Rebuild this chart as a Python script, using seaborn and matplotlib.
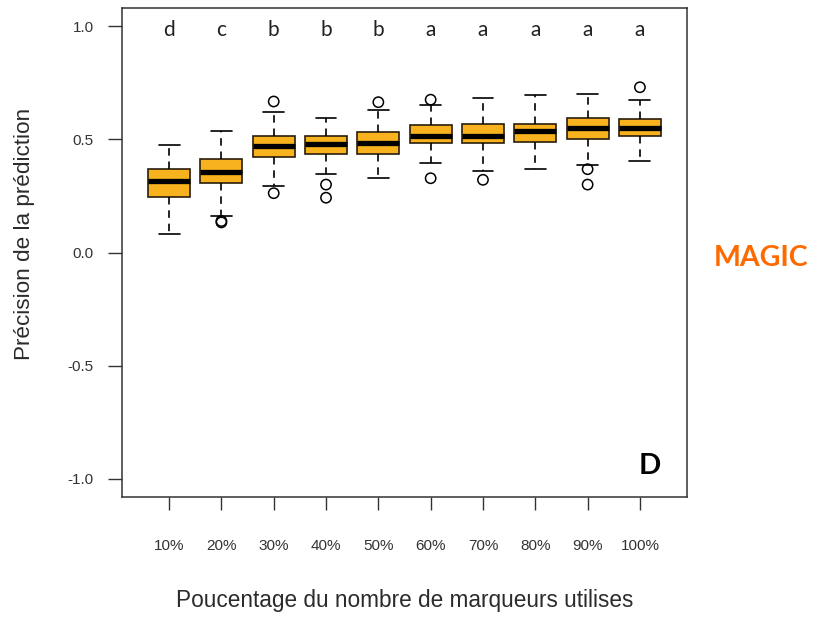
import numpy as np
import pandas as pd
import matplotlib
matplotlib.use("Agg")
import matplotlib.pyplot as plt
import seaborn as sns

# Share of markers used and the prediction accuracy summary for each share
categories = ["10%", "20%", "30%", "40%", "50%", "60%", "70%", "80%", "90%", "100%"]
whisker_low = [0.080, 0.161, 0.294, 0.347, 0.328, 0.395, 0.362, 0.368, 0.387, 0.404]
q1 = [0.247, 0.307, 0.420, 0.433, 0.433, 0.482, 0.482, 0.488, 0.501, 0.514]
median = [0.315, 0.356, 0.470, 0.478, 0.483, 0.516, 0.516, 0.535, 0.548, 0.548]
q3 = [0.368, 0.415, 0.514, 0.514, 0.531, 0.563, 0.568, 0.568, 0.594, 0.588]
whisker_high = [0.475, 0.535, 0.622, 0.594, 0.630, 0.650, 0.683, 0.696, 0.702, 0.675]

# Points beyond the whiskers
outlier_groups = ["20%", "20%", "30%", "30%", "40%", "40%", "50%", "60%", "60%",
                  "70%", "90%", "90%", "100%"]
outlier_values = [0.133, 0.139, 0.667, 0.262, 0.300, 0.242, 0.664, 0.675, 0.328,
                  0.321, 0.368, 0.300, 0.730]

# Significance groups shown above each box
letters = ["d", "c", "b", "b", "b", "a", "a", "a", "a", "a"]

y_ticks = [-1.0, -0.5, 0.0, 0.5, 1.0]
y_tick_labels = ["-1.0", "-0.5", "0.0", "0.5", "1.0"]

# Long table: five summary values per group give the exact quartiles
rows = []
for g, lo, a, m, b, hi in zip(categories, whisker_low, q1, median, q3, whisker_high):
    for v in (lo, a, m, b, hi):
        rows.append({"groupe": g, "precision": v})
df = pd.DataFrame(rows)

sns.set_theme(style="white")
plt.rcParams["font.family"] = ["Liberation Sans", "DejaVu Sans"]

fig = plt.figure(figsize=(8.22, 6.17), dpi=100)
ax = fig.add_axes([122 / 822, 1 - 497 / 617, (687 - 122) / 822, (497 - 8) / 617])

edge = "#2a1e0c"
sns.boxplot(
    data=df, x="groupe", y="precision", order=categories,
    whis=(0, 100), width=0.8, color="#F7B21E", saturation=1,
    linecolor=edge, linewidth=1.2, showfliers=False, ax=ax,
    medianprops={"color": "black", "linewidth": 3.8},
    whiskerprops={"linestyle": (0, (4.5, 3.5)), "color": "black"},
    capprops={"color": "black"},
)

out_x = [categories.index(g) for g in outlier_groups]
sns.scatterplot(x=out_x, y=outlier_values, marker="o", s=55,
                facecolor="none", edgecolor="black", linewidth=1.1, ax=ax,
                zorder=5)

for i, lab in enumerate(letters):
    ax.text(i, 0.955, lab, ha="center", va="baseline", fontsize=15,
            family=["Lato", "DejaVu Sans"], color="#222222")

ax.set_xlim(-0.9, 9.9)
ax.set_ylim(-1.08, 1.08)
ax.set_yticks(y_ticks)
ax.set_yticklabels(y_tick_labels)
ax.set_xticks(range(len(categories)))
ax.set_xticklabels(categories)

ax.tick_params(axis="y", direction="out", length=10, width=1.0, color="#333333",
               labelsize=11, labelcolor="#333333", pad=10.5, left=True)
ax.tick_params(axis="x", direction="out", length=9.5, width=1.0, color="#333333",
               labelsize=11, labelcolor="#333333", pad=21, bottom=True)

for s in ax.spines.values():
    s.set_visible(True)
    s.set_color("#333333")
    s.set_linewidth(1.1)

ax.set_xlabel("Poucentage du nombre de marqueurs utilises", fontsize=16.3,
              color="#2b2b2b")
ax.xaxis.set_label_coords(0.5, (497 - 601) / 489)
ax.xaxis.label.set_va("center")
ax.set_ylabel("Précision de la prédiction", fontsize=16.2, color="#2b2b2b")
ax.yaxis.set_label_coords((25 - 122) / 565, (497 - 234) / 489)
ax.yaxis.label.set_va("center")
ax.yaxis.label.set_ha("center")

fig.text(761.5 / 822, 1 - 258 / 617, "MAGIC", ha="center", va="center",
         fontsize=20.5, fontweight="bold", color="#FF6A00",
         family=["Lato", "DejaVu Sans"])
fig.text(650 / 822, 1 - 466 / 617, "D", ha="center", va="center",
         fontsize=21, fontweight="bold", color="black",
         family=["Lato", "DejaVu Sans"])

fig.savefig("out.png", dpi=100)
